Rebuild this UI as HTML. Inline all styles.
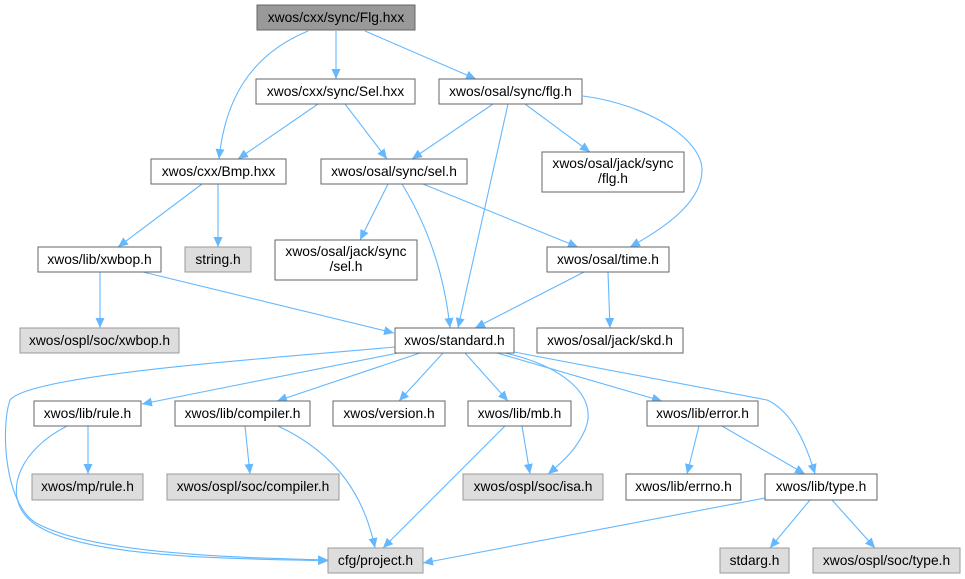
<!DOCTYPE html>
<html><head><meta charset="utf-8"><style>
html,body{margin:0;padding:0;background:#fff;}
svg{display:block;font-family:"Liberation Sans",Arial,sans-serif;font-size:13.8px;}
</style></head><body>
<svg width="965" height="579" viewBox="0 0 965 579" xmlns="http://www.w3.org/2000/svg">
<defs>
<marker id="a" markerUnits="userSpaceOnUse" markerWidth="11" markerHeight="9" refX="10" refY="4.5" orient="auto">
<path d="M0,0 L10,4.5 L0,9 z" fill="#63b8ff"/>
</marker>
</defs>
<g fill="none" stroke="#63b8ff" stroke-width="1.1" marker-end="url(#a)">
<path d="M308,31 C250,55 225,100 219,159"/>
<path d="M336,31 L336,79"/>
<path d="M365,31 L476,79"/>
<path d="M318,104 L238,159"/>
<path d="M345,104 L387,159"/>
<path d="M493,104 L412,159"/>
<path d="M508,104 L458,328"/>
<path d="M525,104 L590,152"/>
<path d="M583,96 C650,105 702,140 702,170 C702,200 670,225 630,247"/>
<path d="M388,184 L360,240"/>
<path d="M402,184 C430,230 445,280 450,328"/>
<path d="M423,184 L578,247"/>
<path d="M202,184 L118,247"/>
<path d="M218,184 L218,247"/>
<path d="M143,272 L394,333"/>
<path d="M100,272 L100,328"/>
<path d="M584,272 L475,328"/>
<path d="M608,272 L610,328"/>
<path d="M395,347 C250,360 30,375 10,400 C0,430 5,510 40,525 C100,555 250,558 328,560"/>
<path d="M398,353 L142,404"/>
<path d="M420,353 L277,401"/>
<path d="M443,353 L399,401"/>
<path d="M465,353 L508,401"/>
<path d="M505,353 C560,365 600,395 585,430 C577,448 565,460 548,474"/>
<path d="M497,353 L662,401"/>
<path d="M514,352 L767,400 C790,410 805,440 815,474"/>
<path d="M88,426 L88,474"/>
<path d="M67,426 C20,450 5,490 25,515 C60,560 240,558 328,561"/>
<path d="M245,426 L250,474"/>
<path d="M278,426 C340,455 365,500 375,548"/>
<path d="M522,426 L530,474"/>
<path d="M505,426 L383,548"/>
<path d="M699,426 L687,474"/>
<path d="M722,426 L805,474"/>
<path d="M765,498 L423,563"/>
<path d="M810,500 L770,548"/>
<path d="M832,500 L875,548"/>
</g>
<g stroke-width="1">
<rect x="257" y="5" width="158" height="25" fill="#999" stroke="#666"/>
<rect x="256" y="79" width="159" height="25" fill="#fff" stroke="#666"/>
<rect x="439" y="79" width="143" height="25" fill="#fff" stroke="#666"/>
<rect x="151" y="159" width="135" height="25" fill="#fff" stroke="#666"/>
<rect x="321" y="159" width="146" height="25" fill="#fff" stroke="#666"/>
<rect x="542" y="152" width="142" height="40" fill="#fff" stroke="#666"/>
<rect x="185" y="247" width="66" height="25" fill="#ddd" stroke="#999"/>
<rect x="38" y="247" width="123" height="25" fill="#fff" stroke="#666"/>
<rect x="275" y="240" width="142" height="40" fill="#fff" stroke="#666"/>
<rect x="547" y="247" width="122" height="25" fill="#fff" stroke="#666"/>
<rect x="20" y="328" width="159" height="25" fill="#ddd" stroke="#999"/>
<rect x="395" y="328" width="119" height="25" fill="#fff" stroke="#666"/>
<rect x="537" y="328" width="146" height="25" fill="#fff" stroke="#666"/>
<rect x="34" y="401" width="107" height="25" fill="#fff" stroke="#666"/>
<rect x="175" y="401" width="135" height="25" fill="#fff" stroke="#666"/>
<rect x="333" y="401" width="112" height="25" fill="#fff" stroke="#666"/>
<rect x="468" y="401" width="103" height="25" fill="#fff" stroke="#666"/>
<rect x="647" y="401" width="111" height="25" fill="#fff" stroke="#666"/>
<rect x="32" y="474" width="111" height="26" fill="#ddd" stroke="#999"/>
<rect x="167" y="474" width="172" height="26" fill="#ddd" stroke="#999"/>
<rect x="463" y="474" width="140" height="26" fill="#ddd" stroke="#999"/>
<rect x="626" y="474" width="115" height="26" fill="#fff" stroke="#666"/>
<rect x="765" y="474" width="112" height="26" fill="#fff" stroke="#666"/>
<rect x="328" y="548" width="95" height="25" fill="#ddd" stroke="#999"/>
<rect x="720" y="548" width="69" height="25" fill="#ddd" stroke="#999"/>
<rect x="813" y="548" width="147" height="25" fill="#ddd" stroke="#999"/>
</g>
<g fill="#000" text-anchor="middle">
<text x="336" y="22">xwos/cxx/sync/Flg.hxx</text>
<text x="335.5" y="96">xwos/cxx/sync/Sel.hxx</text>
<text x="510.5" y="96">xwos/osal/sync/flg.h</text>
<text x="218.5" y="176">xwos/cxx/Bmp.hxx</text>
<text x="394" y="176">xwos/osal/sync/sel.h</text>
<text x="613" y="168">xwos/osal/jack/sync</text>
<text x="613" y="183">/flg.h</text>
<text x="218" y="264">string.h</text>
<text x="99.5" y="264">xwos/lib/xwbop.h</text>
<text x="346" y="256">xwos/osal/jack/sync</text>
<text x="346" y="271">/sel.h</text>
<text x="608" y="264">xwos/osal/time.h</text>
<text x="99.5" y="345">xwos/ospl/soc/xwbop.h</text>
<text x="454.5" y="345">xwos/standard.h</text>
<text x="610" y="345">xwos/osal/jack/skd.h</text>
<text x="87.5" y="418">xwos/lib/rule.h</text>
<text x="242.5" y="418">xwos/lib/compiler.h</text>
<text x="389" y="418">xwos/version.h</text>
<text x="519.5" y="418">xwos/lib/mb.h</text>
<text x="702.5" y="418">xwos/lib/error.h</text>
<text x="87.5" y="491">xwos/mp/rule.h</text>
<text x="253" y="491">xwos/ospl/soc/compiler.h</text>
<text x="533" y="491">xwos/ospl/soc/isa.h</text>
<text x="683.5" y="491">xwos/lib/errno.h</text>
<text x="821" y="491">xwos/lib/type.h</text>
<text x="375.5" y="565">cfg/project.h</text>
<text x="754.5" y="565">stdarg.h</text>
<text x="886.5" y="565">xwos/ospl/soc/type.h</text>
</g>
</svg>
</body></html>
